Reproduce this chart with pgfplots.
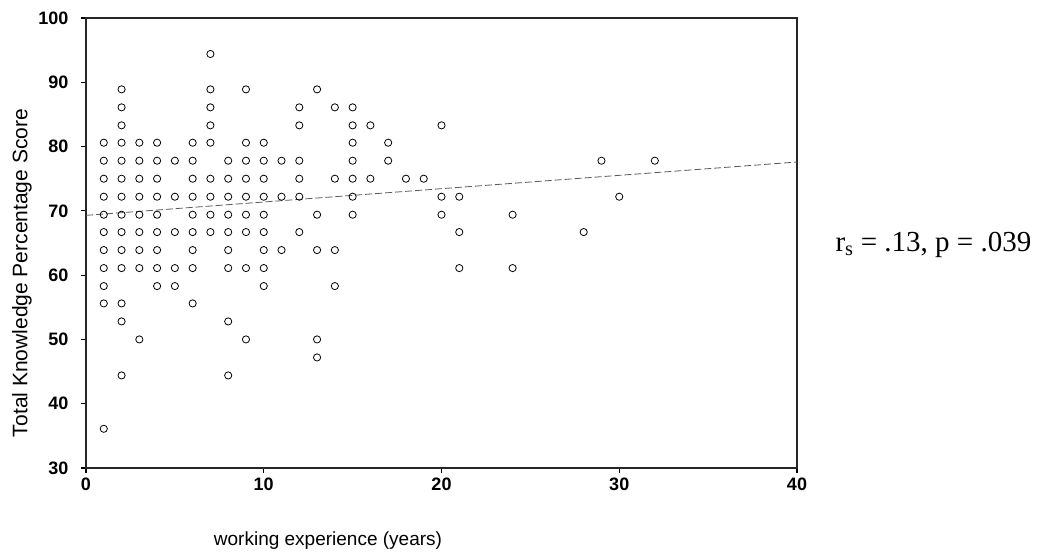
\documentclass[border=0pt]{standalone}
\usepackage{fontspec}
\setmainfont{Liberation Sans}
\newfontfamily\timesfont{Liberation Serif}
\usepackage{pgfplots}
\pgfplotsset{compat=1.18}
\usepackage{pgfplotstable}

\pgfplotstableread{
x y
1 80.6
1 77.8
1 75.0
1 72.2
1 69.4
1 66.7
1 63.9
1 61.1
1 58.3
1 55.6
1 36.1
2 88.9
2 86.1
2 83.3
2 80.6
2 77.8
2 75.0
2 72.2
2 69.4
2 66.7
2 63.9
2 61.1
2 55.6
2 52.8
2 44.4
3 80.6
3 77.8
3 75.0
3 72.2
3 69.4
3 66.7
3 63.9
3 61.1
3 50.0
4 80.6
4 77.8
4 75.0
4 72.2
4 69.4
4 66.7
4 63.9
4 61.1
4 58.3
5 77.8
5 72.2
5 66.7
5 61.1
5 58.3
6 80.6
6 77.8
6 75.0
6 72.2
6 69.4
6 66.7
6 63.9
6 61.1
6 55.6
7 94.4
7 88.9
7 86.1
7 83.3
7 80.6
7 75.0
7 72.2
7 69.4
7 66.7
8 77.8
8 75.0
8 72.2
8 69.4
8 66.7
8 63.9
8 61.1
8 52.8
8 44.4
9 88.9
9 80.6
9 77.8
9 75.0
9 72.2
9 69.4
9 66.7
9 61.1
9 50.0
10 80.6
10 77.8
10 75.0
10 72.2
10 69.4
10 66.7
10 63.9
10 61.1
10 58.3
11 77.8
11 72.2
11 63.9
12 86.1
12 83.3
12 77.8
12 75.0
12 72.2
12 66.7
13 88.9
13 69.4
13 63.9
13 50.0
13 47.2
14 86.1
14 75.0
14 63.9
14 58.3
15 86.1
15 83.3
15 80.6
15 77.8
15 75.0
15 72.2
15 69.4
16 83.3
16 75.0
17 80.6
17 77.8
18 75.0
19 75.0
20 83.3
20 72.2
20 69.4
21 72.2
21 66.7
21 61.1
24 69.4
24 61.1
28 66.7
29 77.8
30 72.2
32 77.8
}\scatterdata

\begin{document}
\begin{tikzpicture}[x=1pt,y=1pt]
\useasboundingbox (0,0) rectangle (1049,557);
\begin{axis}[
  at={(86pt,89pt)}, anchor=south west,
  scale only axis, width=711pt, height=450pt,
  xmin=0, xmax=40, ymin=30, ymax=100,
  xtick={0,10,20,30,40}, ytick={30,40,...,100},
  tick align=outside, tick pos=left,
  major tick length=5pt,
  axis line style={black!85, line width=1.1pt},
  tick style={black, line width=1.1pt},
  ticklabel style={font=\fontsize{18}{18}\selectfont\bfseries},
  /pgf/number format/assume math mode=true,
  yticklabel style={xshift=-9pt},
  xticklabel style={yshift=-1pt},
  clip=false,
]
\addplot[only marks, mark=o, mark size=3.6pt, black, mark options={line width=0.8pt}] table[x=x,y=y] {\scatterdata};
\addplot[black!65, dash pattern=on 7pt off 3pt, line width=0.8pt] coordinates {(0,69.3) (40,77.6)};
\end{axis}
\node[rotate=90, font=\fontsize{21}{21}\selectfont] at (22,284) {Total Knowledge Percentage Score};
\node[anchor=base, font=\fontsize{19}{19}\selectfont] at (328,12) {working experience (years)};
\node[anchor=base west, font={\timesfont\fontsize{29}{29}\selectfont}] at (832,305) {r\textsubscript{s} = .13, p = .039};
\end{tikzpicture}
\end{document}
